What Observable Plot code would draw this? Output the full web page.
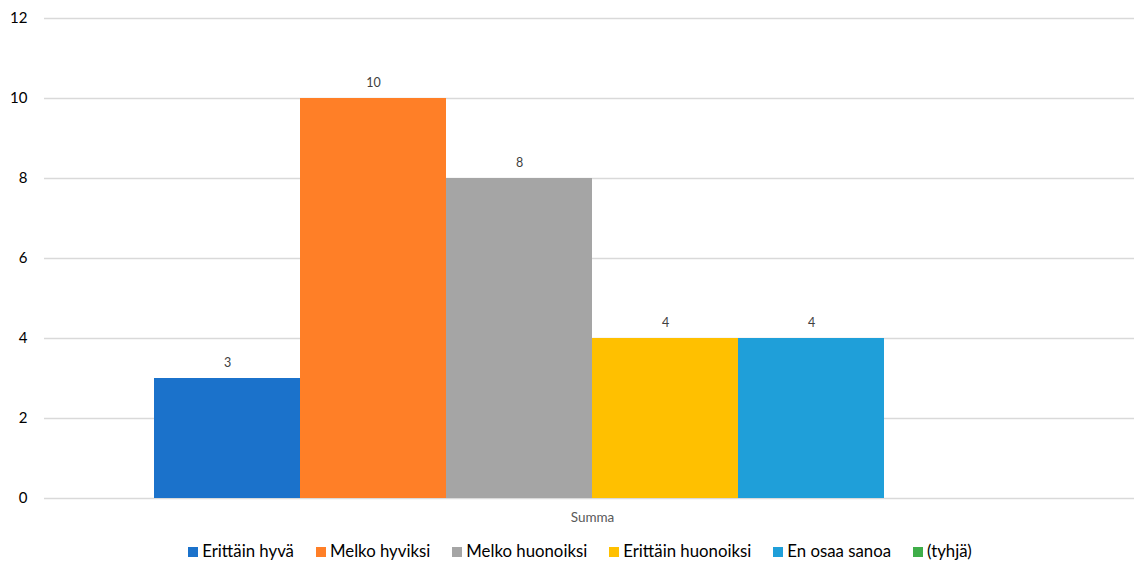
<!DOCTYPE html>
<html><head><meta charset="utf-8">
<script src="https://cdn.jsdelivr.net/npm/d3@7"></script>
<script src="https://cdn.jsdelivr.net/npm/@observablehq/plot@0.6"></script>
<style>
html,body{margin:0;background:#fff;font-family:Lato,"Open Sans",sans-serif;overflow:hidden;}
#chart{width:1134px;height:530px;overflow:hidden;}
#chart svg{max-width:none !important;}
#legend{width:1134px;box-sizing:border-box;padding-left:26px;display:flex;justify-content:center;gap:22px;font-size:16.8px;color:#000;margin-top:10px;white-space:nowrap;}
#legend span.sw{display:inline-block;width:10px;height:10px;margin-right:4px;vertical-align:0px;}
</style></head>
<body><div id="chart"></div><div id="legend"></div>
<script>
const categories = ["Summa"];
const series = ["Erittäin hyvä","Melko hyviksi","Melko huonoiksi","Erittäin huonoiksi","En osaa sanoa","(tyhjä)"];
const values = [3,10,8,4,4,null];
const colors = ["#1B72CB","#FF7F27","#A5A5A5","#FFC000","#1F9FD9","#3FAE49"];
const yTicks = [0,2,4,6,8,10,12];

const data = series.map((s,i)=>({cat:categories[0], series:s, value:values[i]}));
const bars = data.filter(d=>d.value!=null);

const plot = Plot.plot({
  width:1146, height:530,
  marginTop:18, marginBottom:32, marginLeft:44, marginRight:6,
  style:{fontFamily:"Lato, 'Open Sans', sans-serif", background:"#fff", display:"block"},
  fx:{domain:categories, padding:0, label:null, axis:null},
  x:{domain:series, paddingInner:0, paddingOuter:0.74, axis:null},
  y:{domain:[0,12], ticks:yTicks, label:null},
  color:{domain:series, range:colors},
  marks:[
    Plot.gridY(yTicks,{stroke:"#d9d9d9", strokeOpacity:1, strokeWidth:1.3}),
    Plot.axisY(yTicks,{tickSize:0, tickPadding:17, fontSize:15, fill:"#000", label:null}),
    Plot.barY(bars,{fx:"cat", x:"series", y:"value", fill:"series"}),
    Plot.text(bars,{fx:"cat", x:"series", y:"value", text:d=>String(d.value), dy:-16, fontSize:12.5, fill:"#404040"}),
    Plot.axisFx({anchor:"bottom", tickSize:0, tickPadding:14, fontSize:13.5, fill:"#595959", label:null})
  ]
});
plot.style.maxWidth = "none";
document.getElementById("chart").appendChild(plot);
const lg = document.getElementById("legend");
series.forEach((s,i)=>{
  const d=document.createElement("div");
  d.innerHTML=`<span class="sw" style="background:${colors[i]}"></span>${s}`;
  lg.appendChild(d);
});
</script></body></html>
